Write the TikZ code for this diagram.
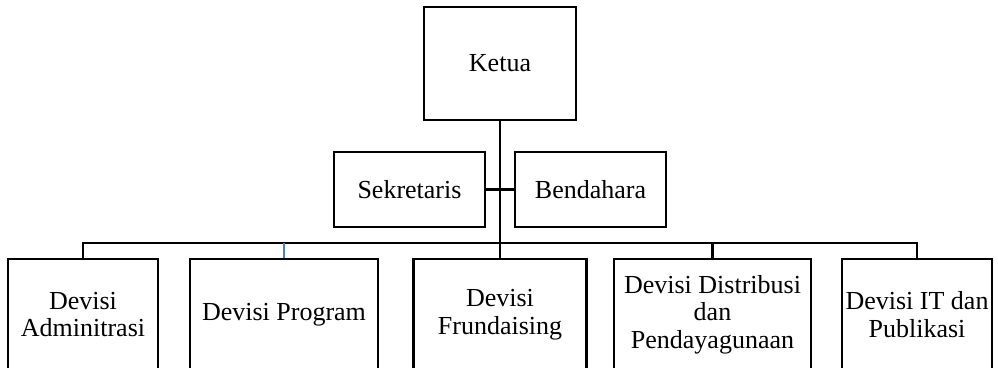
\documentclass[tikz,border=0pt]{standalone}
\usepackage{fontspec}
\setmainfont{Liberation Serif}
\definecolor{lineblue}{RGB}{79,129,189}
\begin{document}
\begin{tikzpicture}[x=1pt,y=-1pt,
  box/.style={draw=black,line width=2.2pt,rectangle,inner sep=0pt,align=center,
    font=\fontsize{26}{27.5}\selectfont},
  link/.style={draw=black,line width=2.2pt}]
\useasboundingbox (0,0) rectangle (998,367);
\clip (0,0) rectangle (998,367);
\node[box,minimum width=152pt,minimum height=113pt] (ketua) at (500,63.5) {Ketua};
\node[box,minimum width=151pt,minimum height=75pt] (sek) at (409.5,189.5) {Sekretaris};
\node[box,minimum width=151pt,minimum height=75pt] (bend) at (590.5,189.5) {Bendahara};
\node[box,minimum width=150pt,minimum height=111pt] (adm) at (83,314.5) {Devisi\\Adminitrasi};
\node[box,minimum width=188pt,minimum height=111pt] (prog) at (284,314.5) {Devisi Program};
\node[box,minimum width=173pt,minimum height=111pt] (fund) at (500,314.5) {Devisi\\Frundaising};
\node[box,minimum width=197pt,minimum height=111pt] (dist) at (712.5,314.5) {Devisi Distribusi\\dan\\Pendayagunaan};
\node[box,minimum width=150pt,minimum height=111pt] (it) at (917,314.5) {Devisi IT dan\\Publikasi};
\coordinate (bl) at (83,243);
\coordinate (br) at (917,243);
\draw[link] (ketua.south) -- (fund.north);
\draw[link] (sek.east) -- (bend.west);
\draw[link] (adm.north) -- (bl) -- (br) -- (it.north);
\draw[link] (dist.north) -- (dist.north |- bl);
\draw[draw=lineblue,line width=1.5pt] (prog.north) -- (prog.north |- bl);
\end{tikzpicture}
\end{document}
